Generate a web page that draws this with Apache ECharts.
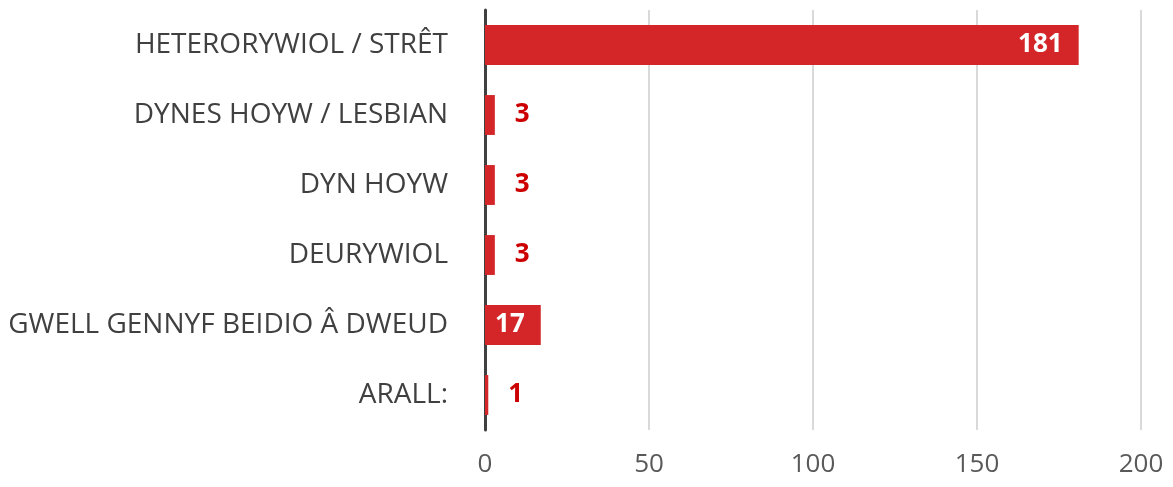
<!DOCTYPE html>
<html>
<head>
<meta charset="utf-8">
<script src="https://cdn.jsdelivr.net/npm/echarts@6/dist/echarts.min.js"></script>
<style>
  html, body { margin: 0; padding: 0; background: #fff; }
</style>
</head>
<body>
<div id="myChart" style="width:1173px;height:487px;"></div>
<script>
var categories = ['HETERORYWIOL / STRÊT', 'DYNES HOYW / LESBIAN', 'DYN HOYW', 'DEURYWIOL', 'GWELL GENNYF BEIDIO Â DWEUD', 'ARALL:'];
var values = [181, 3, 3, 3, 17, 1];
var xTicks = [0, 50, 100, 150, 200];

var myChart = echarts.init(document.getElementById('myChart'));

// big bars get a white label inside, small ones a red label outside
var barData = values.map(function (v) {
  var inside = v > 10;
  return {
    value: v,
    label: inside ? {
      position: 'insideRight',
      distance: 16,
      color: '#fff'
    } : {
      position: 'right',
      distance: 20,
      color: '#cc0000'
    }
  };
});

myChart.setOption({
  animation: false,
  grid: {
    left: 485,
    right: 32,
    top: 10,
    bottom: 57
  },
  xAxis: {
    type: 'value',
    min: xTicks[0],
    max: xTicks[xTicks.length - 1],
    interval: 50,
    axisLine: { show: false },
    axisTick: { show: false },
    splitLine: { lineStyle: { color: '#d9d9d9', width: 2 } },
    axisLabel: {
      color: '#595959',
      fontFamily: 'Open Sans',
      fontSize: 26,
      margin: 22
    }
  },
  yAxis: {
    type: 'category',
    inverse: true,
    data: categories,
    axisLine: { lineStyle: { color: '#404040', width: 3 } },
    axisTick: { show: false },
    axisLabel: {
      color: '#404040',
      fontFamily: 'Open Sans',
      fontSize: 28,
      margin: 37
    }
  },
  series: [{
    type: 'bar',
    data: barData,
    barCategoryGap: '43%',
    itemStyle: { color: '#d42628' },
    label: {
      show: true,
      fontFamily: 'Open Sans',
      fontWeight: 'bold',
      fontSize: 26
    }
  }]
});
</script>
</body>
</html>
